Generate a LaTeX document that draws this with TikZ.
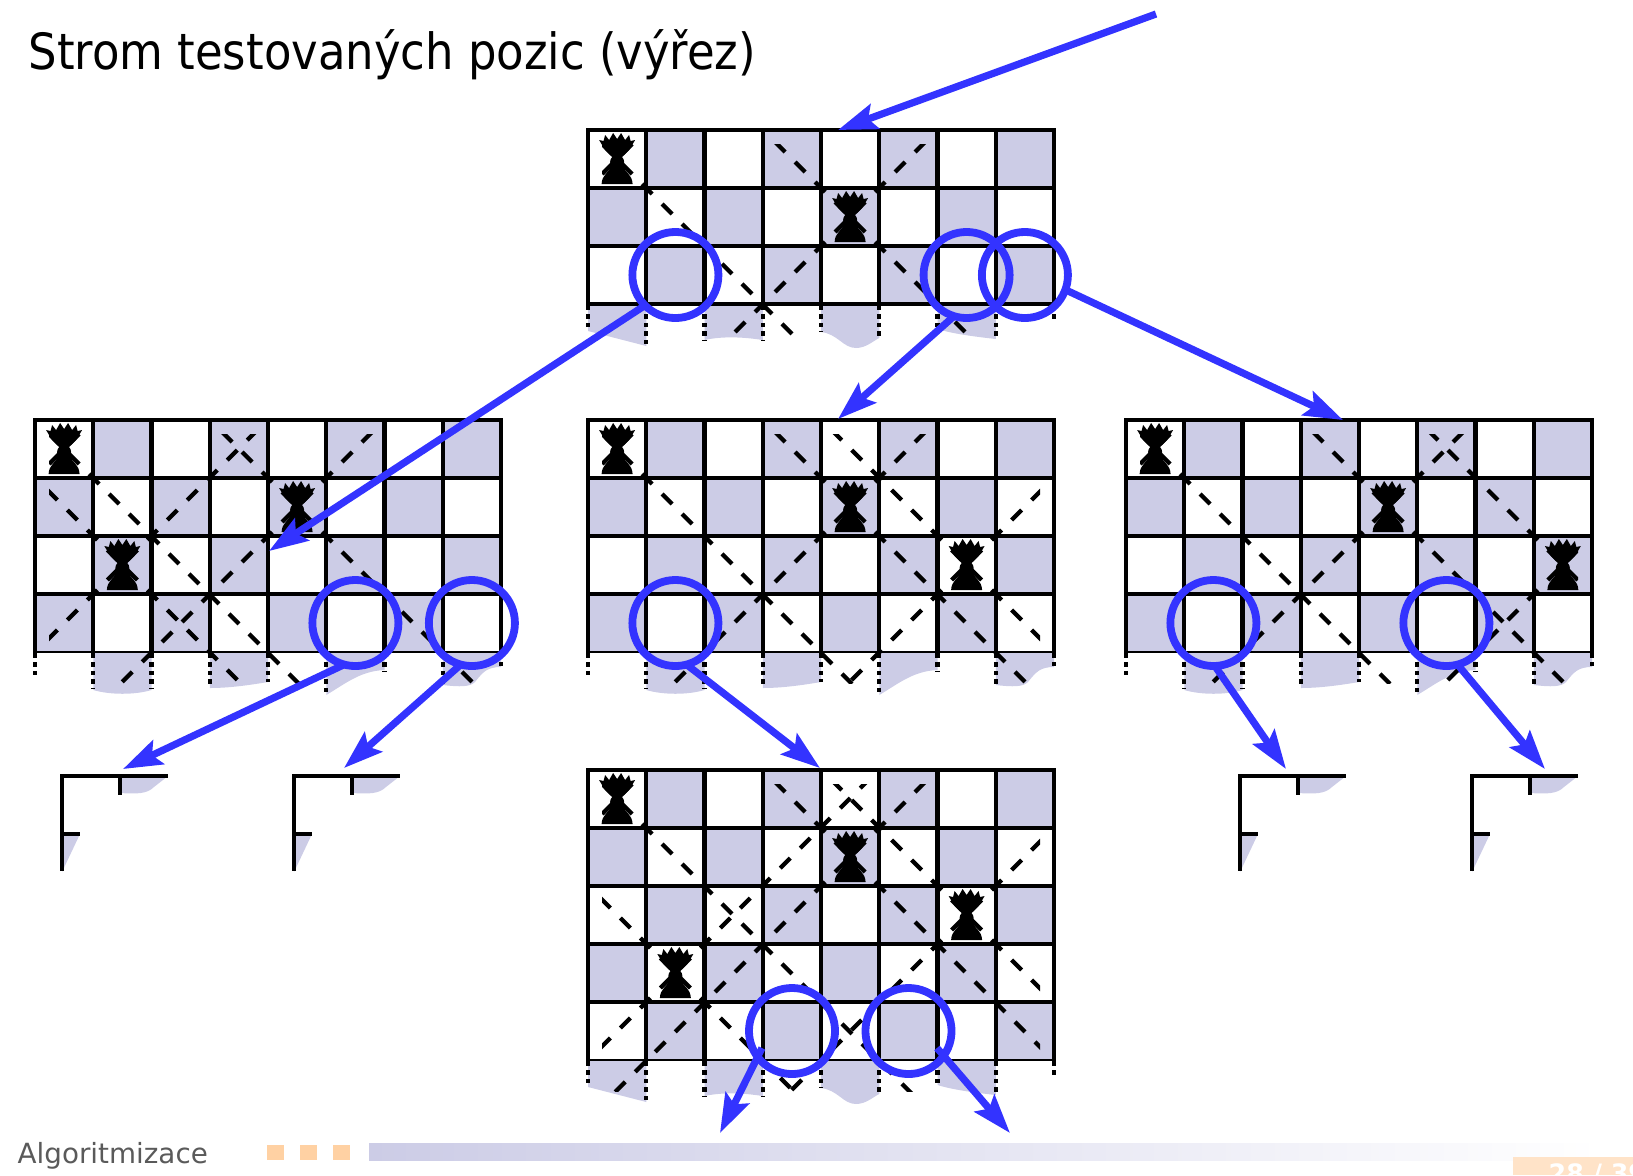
\documentclass[tikz,border=0pt]{standalone}
\usepackage{xcolor}
\usepackage{fontspec}
\usepackage{tikz}
\usetikzlibrary{arrows.meta, calc}
\setmainfont{DejaVu Sans}
\newfontfamily\titlefont{DejaVu Sans Condensed}

\definecolor{cellshade}{HTML}{CCCCE6}
\definecolor{moveblue}{HTML}{3333FF}
\definecolor{footorange}{HTML}{FFD1A3}
\definecolor{pageorange}{HTML}{FFE3C8}
\definecolor{footgray}{HTML}{5A5A5A}

\tikzset{
  queen_piece/.pic={
    \fill[black] (-18,-19) -- (-13.5,-18) -- (-12,-24) -- (-8,-19) -- (-4,-26) -- (0,-20)
      -- (4,-26) -- (8,-19) -- (12,-24) -- (13.5,-18) -- (18,-19)
      -- (12,-9) -- (5,-2) -- (-5,-2) -- (-12,-9) -- cycle;
    \fill[black] (0,3) circle (7);
    \fill[black] (-6,7) .. controls (-8,14) and (-15,15) .. (-15.5,25) -- (15.5,25)
      .. controls (15,15) and (8,14) .. (6,7) -- cycle;
  }
}

% one board: left, top, number of rows, list of queens (row/col)
\newcommand{\drawboard}[4]{
  \begin{scope}[shift={(#1,#2)}]
    \pgfmathtruncatemacro{\lastrow}{#3-1}
    \foreach \r in {0,...,\lastrow} \foreach \c in {0,...,7} {
      \pgfmathtruncatemacro{\cellodd}{mod(\r+\c,2)}
      \ifnum\cellodd=1
        \fill[cellshade] (\c*58.25,\r*58) rectangle ++(58.25,58);
      \fi
    }
    % torn lower edge of the board
    \begin{scope}[shift={(0,#3*58)}]
      \ifodd#3
        \fill[cellshade] (0,0) -- (0,27) -- (58.25,42) -- (58.25,0) -- cycle;
        \fill[cellshade] (116.5,0) -- (116.5,36) .. controls (135,32) and (155,33) .. (174.75,36) -- (174.75,0) -- cycle;
        \fill[cellshade] (233,0) -- (233,28) .. controls (250,30) and (255,44) .. (268,44) .. controls (278,44) and (285,37) .. (291.25,34) -- (291.25,0) -- cycle;
        \fill[cellshade] (349.5,0) -- (349.5,25) .. controls (365,30) and (390,33) .. (407.75,35) -- (407.75,0) -- cycle;
        \foreach \g/\d in {0/27, 1/42, 2/36, 3/36, 4/28, 5/35, 6/25, 7/35, 8/16}
          \draw[torn_line] (\g*58.25,2) -- (\g*58.25,\d);
      \else
        \fill[cellshade] (58.25,0) -- (58.25,38) .. controls (75,43) and (100,43) .. (116.5,38) -- (116.5,0) -- cycle;
        \fill[cellshade] (174.75,0) -- (174.75,36) .. controls (195,36) and (215,33) .. (233,30) -- (233,0) -- cycle;
        \fill[cellshade] (291.25,0) -- (291.25,43) .. controls (310,32) and (325,19) .. (349.5,18) -- (349.5,0) -- cycle;
        \fill[cellshade] (407.75,0) -- (407.75,33) .. controls (425,35) and (435,35) .. (440,30) .. controls (448,20) and (452,15) .. (466,15) -- (466,0) -- cycle;
        \foreach \g/\d in {0/27, 1/37, 2/37, 3/35, 4/30, 5/43, 6/20, 7/33, 8/14}
          \draw[torn_line] (\g*58.25,2) -- (\g*58.25,\d);
      \fi
    \end{scope}
    % grid
    \foreach \r in {0,...,\lastrow}
      \draw[grid_line] (0,\r*58) -- (466,\r*58);
    \foreach \c in {0,...,8}
      \draw[grid_line] (\c*58.25,0) -- (\c*58.25,#3*58);
    \ifnum#3=3
      \draw[grid_line] (0,#3*58) -- (466,#3*58);
    \else
      \draw[black, line width=0.12mm] (0,#3*58) -- (466,#3*58);
    \fi
    % diagonals of every queen
    \begin{scope}
      \clip (14,14) rectangle (452,#3*58+31);
      \foreach \r/\c in {#4} \foreach \dx/\dy in {1/1, 1/-1, -1/1, -1/-1}
        \draw[attack_ray] (\c*58.25+29.1,\r*58+29) -- ++(\dx*500,\dy*500);
    \end{scope}
    \foreach \r/\c in {#4}
      \pic at (\c*58.25+29.1,\r*58+29) {queen_piece};
  \end{scope}
}

% cut-off corner of a further board
\newcommand{\drawcorner}[2]{
  \begin{scope}[shift={(#1,#2)}]
    \fill[cellshade] (58,0) -- (58,17) .. controls (75,18) and (85,18) .. (92,11) -- (106,0) -- cycle;
    \fill[cellshade] (0,58) -- (18,58) -- (0,96) -- cycle;
    \draw[grid_line] (0,93) -- (0,0) -- (104,0);
    \draw[grid_line] (58,0) -- (58,17);
    \draw[grid_line] (0,58) -- (16,58);
  \end{scope}
}

\begin{document}
\begin{tikzpicture}[x=0.01cm, y=-0.01cm, >=Stealth]

% --- Style Definitions ---
\tikzstyle{grid_line}=[black, line width=0.42mm, line cap=rect]
\tikzstyle{torn_line}=[black, line width=0.42mm, dash pattern=on 1.2pt off 1.2pt]
\tikzstyle{attack_ray}=[black, line width=0.42mm, dash pattern=on 4.02pt off 4.02pt, dash phase=6.04pt]
\tikzstyle{test_circle}=[circle, draw=moveblue, line width=0.78mm, minimum size=0.86cm, inner sep=0pt, outer sep=0pt]
\tikzstyle{move_arrow}=[-{Stealth[length=3.9mm, width=2.6mm, inset=0.7mm]}, moveblue, line width=0.72mm]

\useasboundingbox (0,0) rectangle (1633,1175);

% --- Title and footer ---
\node[anchor=base west, inner sep=0pt, font=\titlefont\fontsize{14.2}{17}\selectfont] (title) at (28,69) {Strom testovaných pozic (výřez)};
\node[anchor=base west, inner sep=0pt, text=footgray, font=\fontsize{7.9}{10}\selectfont] (footer) at (17,1163) {Algoritmizace};
\foreach \x in {267,300,333}
  \fill[footorange] (\x,1145) rectangle ++(17,15);
\shade[left color=cellshade, right color=white] (369,1143) rectangle (1600,1160);
\fill[pageorange] (1513,1157) rectangle (1633,1175);
\node[anchor=base west, inner sep=0pt, text=white, font=\bfseries\fontsize{7.2}{9}\selectfont] (page) at (1548,1182) {28 / 39};

% --- Boards ---
\drawboard{588}{130}{3}{0/0, 1/4}
\drawboard{35}{420}{4}{0/0, 1/4, 2/1}
\drawboard{588}{420}{4}{0/0, 1/4, 2/6}
\drawboard{1126}{420}{4}{0/0, 1/4, 2/7}
\drawboard{588}{770}{5}{0/0, 1/4, 2/6, 3/1}

\drawcorner{62}{776}
\drawcorner{294}{776}
\drawcorner{1240}{776}
\drawcorner{1472}{776}

% --- Tested squares ---
\node[test_circle] (root_a) at (675.4,275) {};
\node[test_circle] (root_b) at (966.6,275) {};
\node[test_circle] (root_c) at (1024.9,275) {};
\node[test_circle] (left_a) at (355.4,623) {};
\node[test_circle] (left_b) at (471.9,623) {};
\node[test_circle] (mid_a) at (675.4,623) {};
\node[test_circle] (right_a) at (1213.4,623) {};
\node[test_circle] (right_b) at (1446.4,623) {};
\node[test_circle] (low_a) at (792,1031) {};
\node[test_circle] (low_b) at (908.5,1031) {};

% --- Arrow ends ---
\coordinate (start) at (1156,14);
\coordinate (root_in) at (838,130);
\coordinate (left_in) at (269,551);
\coordinate (mid_in) at (838,419);
\coordinate (right_in) at (1343,420);
\coordinate (corner_a) at (123,769);
\coordinate (corner_b) at (344,768);
\coordinate (low_in) at (820,768);
\coordinate (corner_c) at (1286,769);
\coordinate (corner_d) at (1545,769);
\coordinate (low_a_from) at (762,1048);
\coordinate (low_b_from) at (937,1048);
\coordinate (exit_a) at (720,1133);
\coordinate (exit_b) at (1010,1133);

% --- Draw Connections ---
\draw[move_arrow] (start) -- (root_in);
\draw[move_arrow] (root_a.225) -- (left_in);
\draw[move_arrow] (root_b.253) -- (mid_in);
\draw[move_arrow] (root_c.340) -- (right_in);
\draw[move_arrow] (left_a.255) -- (corner_a);
\draw[move_arrow] (left_b.255) -- (corner_b);
\draw[move_arrow] (mid_a.285) -- (low_in);
\draw[move_arrow] (right_a.272) -- (corner_c);
\draw[move_arrow] (right_b.285) -- (corner_d);
\draw[move_arrow] (low_a_from) -- (exit_a);
\draw[move_arrow] (low_b_from) -- (exit_b);

\end{tikzpicture}
\end{document}
